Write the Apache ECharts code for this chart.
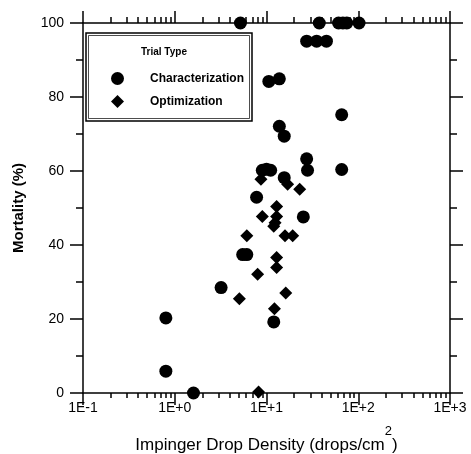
<!DOCTYPE html>
<html><head><meta charset="utf-8">
<script src="https://cdn.jsdelivr.net/npm/echarts@6/dist/echarts.min.js"></script>
<style>html,body{margin:0;padding:0;background:#fff}#c{width:471px;height:454px}</style>
</head><body><div id="c"></div>
<script>
const xTickLabels = ['1E-1', '1E+0', '1E+1', '1E+2', '1E+3'];
const xMinorTicks = [0.2,0.3,0.4,0.5,0.6,0.7,0.8,0.9, 2,3,4,5,6,7,8,9, 20,30,40,50,60,70,80,90, 200,300,400,500,600,700,800,900];
const yTickValues = [0, 20, 40, 60, 80, 100];

const seriesNames = ['Characterization', 'Optimization'];
const charDensity   = [0.8, 0.8, 1.6, 3.2, 5.5, 6.1, 7.8, 9.0, 10.0, 11.1, 12.0, 10.6, 13.8, 13.8, 15.6, 15.6, 25.2, 27.4, 28.0, 66, 66, 5.2, 37.6, 61, 68, 75, 102, 27.4, 35.2, 45];
const charMortality = [20.3, 5.9, 0, 28.5, 37.4, 37.4, 52.9, 60.2, 60.5, 60.2, 19.2, 84.2, 84.9, 72.1, 69.4, 58.2, 47.6, 63.3, 60.2, 60.4, 75.2, 100, 100, 100, 100, 100, 100, 95.1, 95.1, 95.1];
const optDensity    = [8.7, 17.0, 23.0, 12.9, 9.0, 12.9, 12.4, 12.0, 15.9, 19.3, 6.1, 12.9, 12.9, 8.0, 16.2, 5.06, 12.2, 8.2];
const optMortality  = [57.8, 56.4, 55.1, 50.4, 47.7, 47.7, 46.0, 45.1, 42.5, 42.5, 42.5, 36.6, 33.9, 32.1, 27.0, 25.5, 22.8, 0.3];

const FONT = 'Liberation Sans, Arial, Helvetica, sans-serif';
const black = '#000';

function pairs(xs, ys) { return xs.map((x, i) => [x, ys[i]]); }

const chart = echarts.init(document.getElementById('c'), null, {renderer: 'canvas'});

const lineStyle = {color: black, width: 1.5};
const baseX = {type: 'log', logBase: 10, min: 0.1, max: 1000, splitLine: {show: false}, minorSplitLine: {show: false}};

chart.setOption({
  animation: false,
  backgroundColor: '#fff',
  grid: {left: 83, right: 21, top: 23, bottom: 61, containLabel: false, outerBoundsMode: 'none'},
  title: {text: 'Trial Type', left: 141, top: 47, padding: 0,
    textStyle: {fontSize: 10, fontWeight: 'bold', color: black, fontFamily: FONT}},
  legend: {
    left: 111, top: 72, padding: 0, orient: 'vertical', itemWidth: 13, itemHeight: 13, itemGap: 10,
    data: [{name: seriesNames[0], icon: 'circle'}, {name: seriesNames[1], icon: 'diamond'}],
    textStyle: {fontSize: 12, fontWeight: 'bold', color: black, fontFamily: FONT, padding: [0, 0, 0, 21]}
  },
  graphic: [
    {type: 'rect', shape: {x: 86, y: 33, width: 166, height: 88}, style: {fill: '#fff', stroke: black, lineWidth: 1.5}, z: 0},
    {type: 'rect', shape: {x: 88.5, y: 35.5, width: 161, height: 83}, style: {fill: 'none', stroke: black, lineWidth: 0.7}, z: 0}
  ],
  xAxis: [
    Object.assign({}, baseX, {
      position: 'bottom',
      axisLine: {show: true, onZero: false, lineStyle: lineStyle},
      axisTick: {show: true, length: 12, lineStyle: lineStyle},
      axisLabel: {show: true, margin: 8, color: black, fontSize: 14, fontFamily: FONT,
        formatter: v => xTickLabels[Math.round(Math.log10(v)) + 1]},
      name: '{n|Impinger Drop Density (drops/cm}{s|2}{n|)}',
      nameLocation: 'middle', nameGap: 32,
      nameTextStyle: {color: black, fontFamily: FONT, fontSize: 17, rich: {
        n: {fontSize: 17, color: black, fontFamily: FONT, verticalAlign: 'bottom', padding: [12, 0, 0, 0]},
        s: {fontSize: 13, color: black, fontFamily: FONT, verticalAlign: 'top'}
      }}
    }),
    Object.assign({}, baseX, {
      position: 'bottom',
      axisLine: {show: false, onZero: false},
      axisLabel: {show: false},
      axisTick: {show: true, length: 5, lineStyle: lineStyle, customValues: xMinorTicks}
    }),
    Object.assign({}, baseX, {
      position: 'top',
      axisLine: {show: true, onZero: false, lineStyle: lineStyle},
      axisTick: {show: true, length: 12, lineStyle: lineStyle},
      axisLabel: {show: false}
    }),
    Object.assign({}, baseX, {
      position: 'top',
      axisLine: {show: false, onZero: false},
      axisLabel: {show: false},
      axisTick: {show: true, length: 6, lineStyle: lineStyle, customValues: xMinorTicks}
    })
  ],
  yAxis: [
    {type: 'value', position: 'left', min: 0, max: 100, interval: 20,
      splitLine: {show: false},
      axisLine: {show: true, onZero: false, lineStyle: lineStyle},
      axisTick: {show: true, length: 13, lineStyle: lineStyle},
      minorTick: {show: true, splitNumber: 2, length: 7, lineStyle: lineStyle},
      axisLabel: {show: true, margin: 19, color: black, fontSize: 14, fontFamily: FONT,
        formatter: v => String(yTickValues[yTickValues.indexOf(v)])},
      name: 'Mortality (%)', nameLocation: 'middle', nameGap: 57,
      nameTextStyle: {color: black, fontSize: 15, fontWeight: 'bold', fontFamily: FONT}
    },
    {type: 'value', position: 'right', min: 0, max: 100, interval: 20,
      splitLine: {show: false},
      axisLine: {show: true, onZero: false, lineStyle: lineStyle},
      axisTick: {show: true, length: 13, lineStyle: lineStyle},
      minorTick: {show: true, splitNumber: 2, length: 7, lineStyle: lineStyle},
      axisLabel: {show: false}
    }
  ],
  series: [
    {name: seriesNames[0], type: 'scatter', symbol: 'circle', symbolSize: 13,
      itemStyle: {color: black, opacity: 1}, data: pairs(charDensity, charMortality), z: 3},
    {name: seriesNames[1], type: 'scatter', symbol: 'diamond', symbolSize: 13,
      itemStyle: {color: black, opacity: 1}, data: pairs(optDensity, optMortality), z: 3}
  ]
});
</script>
</body></html>
